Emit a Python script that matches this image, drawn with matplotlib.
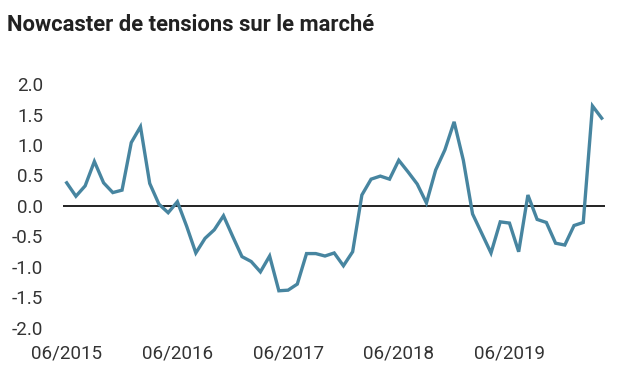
import matplotlib
matplotlib.use('Agg')
import matplotlib.pyplot as plt
import numpy as np

# monthly values, 06/2015 .. 04/2020
months = ['06/2015', '07/2015', '08/2015', '09/2015', '10/2015', '11/2015', '12/2015',
          '01/2016', '02/2016', '03/2016', '04/2016', '05/2016', '06/2016', '07/2016',
          '08/2016', '09/2016', '10/2016', '11/2016', '12/2016', '01/2017', '02/2017',
          '03/2017', '04/2017', '05/2017', '06/2017', '07/2017', '08/2017', '09/2017',
          '10/2017', '11/2017', '12/2017', '01/2018', '02/2018', '03/2018', '04/2018',
          '05/2018', '06/2018', '07/2018', '08/2018', '09/2018', '10/2018', '11/2018',
          '12/2018', '01/2019', '02/2019', '03/2019', '04/2019', '05/2019', '06/2019',
          '07/2019', '08/2019', '09/2019', '10/2019', '11/2019', '12/2019', '01/2020',
          '02/2020', '03/2020', '04/2020']
values = [0.38, 0.16, 0.33, 0.73, 0.38, 0.22, 0.26, 1.04, 1.30, 0.37,
          0.03, -0.11, 0.07, -0.33, -0.77, -0.53, -0.39, -0.16, -0.50, -0.83,
          -0.91, -1.08, -0.82, -1.39, -1.38, -1.28, -0.78, -0.78, -0.82, -0.77,
          -0.98, -0.75, 0.18, 0.44, 0.49, 0.44, 0.75, 0.56, 0.36, 0.05,
          0.59, 0.92, 1.38, 0.75, -0.13, -0.45, -0.77, -0.26, -0.28, -0.75,
          0.18, -0.22, -0.27, -0.61, -0.64, -0.32, -0.27, 1.64, 1.44]
tick_labels = ['06/2015', '06/2016', '06/2017', '06/2018', '06/2019']
y_ticks = [-2.0, -1.5, -1.0, -0.5, 0.0, 0.5, 1.0, 1.5, 2.0]

plt.rcParams['font.family'] = ['Roboto', 'DejaVu Sans']

fig = plt.figure(figsize=(6.18, 3.9), dpi=100)
ax = fig.add_axes([0.1015, 0.159, 0.8775, 0.6256])

x = np.arange(len(values))
ax.axhline(0, color='#111111', linewidth=1.3, zorder=1)
ax.plot(x, values, color='#4785a0', linewidth=2.4, solid_joinstyle='miter',
        clip_on=False, zorder=2)

ax.set_xlim(-0.43, len(values) - 1 + 0.36)
ax.set_ylim(-2.0, 2.0)
ax.set_xticks([months.index(m) for m in tick_labels])
ax.set_xticklabels(tick_labels)
ax.set_yticks(y_ticks)
ax.set_yticklabels(['%.1f' % v for v in y_ticks])
ax.tick_params(axis='both', length=0, labelsize=13.5, labelcolor='#333333')
ax.tick_params(axis='y', pad=14)
ax.tick_params(axis='x', pad=12)
for s in ax.spines.values():
    s.set_visible(False)

fig.text(7 / 618, 1 - 30.7 / 390, 'Nowcaster de tensions sur le marché',
         fontsize=15.8, fontweight='bold', color='#222222', va='baseline', ha='left')

fig.savefig('out.png', dpi=100)
